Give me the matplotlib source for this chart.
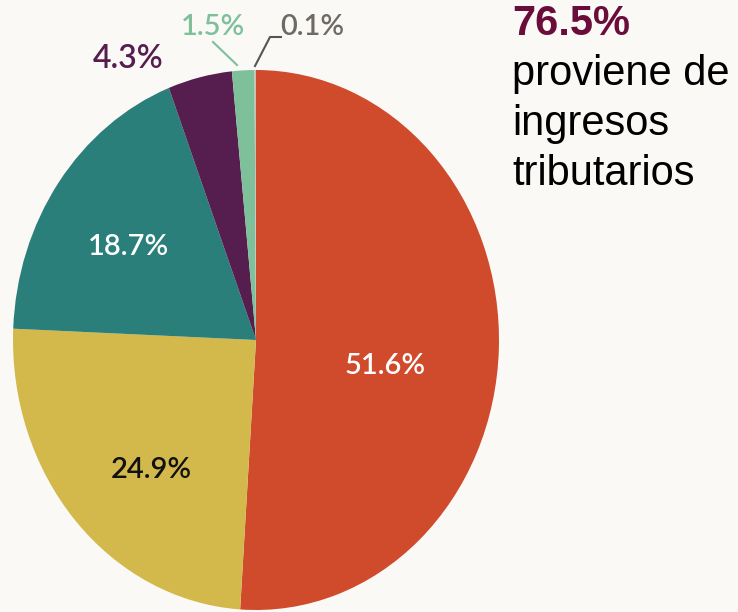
import matplotlib
matplotlib.use("Agg")
import matplotlib.pyplot as plt
from matplotlib.lines import Line2D

# slice data (clockwise from 12 o'clock)
shares = [51.6, 24.9, 18.7, 4.3, 1.5, 0.1]
labels = ["51.6%", "24.9%", "18.7%", "4.3%", "1.5%", "0.1%"]
colors = ["#D04B2C", "#D3B94B", "#2B7F7B", "#561E4F", "#7DC09A", "#C9BFB2"]
label_colors = ["white", "#111111", "white", "#561E4F", "#7DC09A", "#6E6A66"]
# label centres in pixels (x, y from top) and sizes
label_pos = [(385, 366), (151, 470), (128, 247), (128, 59), (213, 27), (312, 27)]
label_size = [21, 21, 21, 23, 21, 21]

headline = "76.5%"
body_lines = ["proviene de", "ingresos", "tributarios"]

W, H = 738, 612
bg = "#FAF9F6"


def px(x, y):
    return x / W, 1 - y / H


fig = plt.figure(figsize=(W / 100, H / 100), dpi=100, facecolor=bg)
# pie is slightly taller than wide in the original
ax = fig.add_axes([13 / W, (H - 610) / H, 486 / W, 540 / H])
ax.pie(shares, colors=colors, startangle=90, counterclock=False,
       radius=1, wedgeprops=dict(linewidth=0))
ax.set_aspect("auto")
ax.set_xlim(-1, 1)
ax.set_ylim(-1, 1)
ax.axis("off")

for lab, col, sz, (x, y) in zip(labels, label_colors, label_size, label_pos):
    fx, fy = px(x, y)
    fig.text(fx, fy, lab, color=col, fontsize=sz, family="Lato",
             weight="semibold", ha="center", va="center")

# leader lines for the two small slices
xs, ys = zip(*[px(213, 42), px(237, 65)])
fig.add_artist(Line2D(xs, ys, color="#7DC09A", lw=1.5))
xs, ys = zip(*[px(255, 66), px(270, 37), px(281, 37)])
fig.add_artist(Line2D(xs, ys, color="#555555", lw=1.5))

fx, fy = px(512, 35)
fig.text(fx, fy, headline, color="#6B0D3B", fontsize=30, weight="bold",
         family="Liberation Sans", ha="left", va="baseline")
for i, line in enumerate(body_lines):
    fx, fy = px(512, 85 + 50 * i)
    fig.text(fx, fy, line, color="black", fontsize=30,
             family="Liberation Sans", ha="left", va="baseline")

fig.savefig("out.png", dpi=100, facecolor=bg)
